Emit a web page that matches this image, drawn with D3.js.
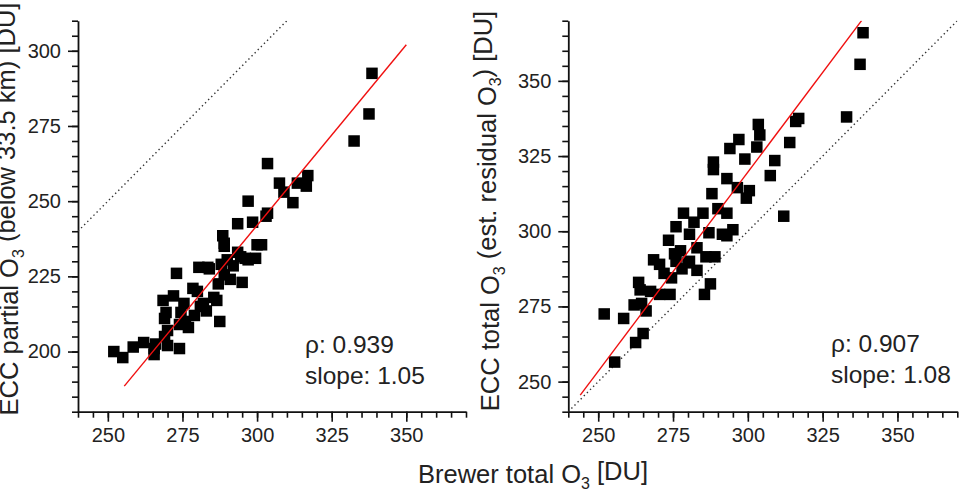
<!DOCTYPE html>
<html>
<head>
<meta charset="utf-8">
<script src="https://cdn.jsdelivr.net/npm/d3@7"></script>
<style>
  body { margin: 0; background: #fff; }
  svg { display: block; font-family: "Liberation Sans", Arial, sans-serif; }
  .tick text { font-size: 20px; fill: #222; }
  .domain { stroke: #111; stroke-width: 1.8px; }
  .tick line { stroke: #111; stroke-width: 1.6px; }
</style>
</head>
<body>
<div id="chart"></div>
<script>
// Brewer total O3 vs ECC partial O3 (left panel)
const partialPoints = [
  [252, 200], [255, 198], [258.5, 201.5], [262, 203], [265.5, 199], [266, 202.5],
  [265.5, 201], [270, 202], [274, 201], [269, 205], [270, 207], [269, 211],
  [269.5, 213], [268.5, 217], [272, 218.5], [273, 226], [275.5, 216], [274.5, 213],
  [274, 209], [277, 208], [276, 210], [278.5, 221], [280.5, 228], [281, 215],
  [283, 213.5], [284, 227.5], [285.5, 218], [287.5, 210], [287, 222.5], [286.5, 217],
  [289, 225.5], [291, 224], [295, 223], [292, 228.5], [296, 231], [299.5, 231],
  [289, 236], [300, 235.5], [293.5, 233], [288.5, 238.5], [289, 235], [294.5, 231.5],
  [290, 230.5], [283.5, 228], [288, 229], [297, 230.5], [293.5, 242.5], [298.5, 243],
  [297, 250], [303.5, 246], [303, 245], [303.5, 262.5], [307.5, 256], [309, 253],
  [312, 249.5], [313.5, 256], [316.5, 255], [317, 258.5], [332.5, 270], [337.5, 279],
  [338.5, 292.5], [301.5, 235.5], [280, 220], [279, 212], [282, 216]
];

// Brewer total O3 vs ECC total O3 (right panel)
const totalPoints = [
  [252, 272.5], [258.5, 271], [255.5, 256.5], [262.5, 263], [265, 266], [262, 275.5],
  [264.5, 276], [266, 273.5], [263.5, 283], [264, 280.5], [267.5, 280], [270.5, 279],
  [274, 279], [272, 286], [268.5, 290.5], [270.5, 289], [274.5, 284.5], [275.5, 292.5],
  [278, 287.5], [280, 289.5], [283, 287], [285.5, 279], [287.5, 282.5], [286, 291.5],
  [289, 291.5], [276, 290], [280.5, 290], [277.5, 293.5], [283, 294.5], [273.5, 297],
  [280.5, 299], [287, 299.5], [291.5, 299], [295, 300.5], [293, 298.5], [276, 301.5],
  [282, 303], [278.5, 306], [285, 306], [290, 307.5], [293, 306], [288, 312.5],
  [296.5, 314.5], [300.5, 313.5], [299.5, 311], [293, 317.5], [288.5, 320.5], [288.5, 323],
  [299, 324], [297, 330.5], [294, 327.5], [303, 328], [304, 332], [303.5, 335.5],
  [309, 323.5], [307.5, 318.5], [314, 329.5], [317, 337.5], [316, 336.5], [312, 305],
  [333, 338], [337.5, 355.5], [338.5, 366]
];

// regression line end points [x, y]
const partialFit = [[255.5, 188.5], [350, 302]];
const totalFit = [[244, 245.5], [338, 370]];

// axis domains and tick labels
const xDomain = [240, 370];
const partialDomain = [180, 310];
const totalDomain = [240, 370];
const xTicks = [250, 275, 300, 325, 350];
const partialTicks = [200, 225, 250, 275, 300];
const totalTicks = [250, 275, 300, 325, 350];

const partialStats = ['\u03c1: 0.939', 'slope: 1.05'];
const totalStats = ['\u03c1: 0.907', 'slope: 1.08'];

const width = 959, height = 492;

const svg = d3.select('#chart').append('svg')
    .attr('width', width)
    .attr('height', height);

const defs = svg.append('defs');

const panels = [
  {
    id: 'left', x0: 78, x1: 466, y0: 411.7, y1: 20.7,
    yDomain: partialDomain, yTicks: partialTicks,
    points: partialPoints, fit: partialFit, stats: partialStats,
    statsX: 305, statsY: 353,
    title: ['ECC partial O', '3', ' (below 33.5 km) [DU]'], titleX: 18, titleY: 209
  },
  {
    id: 'right', x0: 568.3, x1: 957.3, y0: 411.7, y1: 20.7,
    yDomain: totalDomain, yTicks: totalTicks,
    points: totalPoints, fit: totalFit, stats: totalStats,
    statsX: 831, statsY: 352,
    title: ['ECC total O', '3', ' (est. residual O', '3', ') [DU]'], titleX: 499, titleY: 211
  }
];

panels.forEach(drawPanel);

// shared x title
const xt = svg.append('text')
    .attr('x', 418)
    .attr('y', 483)
    .style('font-size', '25.5px')
    .style('fill', '#222');
addSubText(xt, ['Brewer total O', '3', ' [DU]']);

function addSubText(text, parts) {
  // odd entries are subscripts
  parts.forEach(function (p, i) {
    const sub = i % 2 === 1;
    text.append('tspan')
        .attr('dy', sub ? '0.35em' : (i > 0 ? '-0.35em' : null))
        .style('font-size', sub ? '16px' : null)
        .text(p);
  });
}

function drawPanel(p) {

  const x = d3.scaleLinear().domain(xDomain).range([p.x0, p.x1]);
  const y = d3.scaleLinear().domain(p.yDomain).range([p.y0, p.y1]);

  const g = svg.append('g').attr('class', 'panel-' + p.id);

  defs.append('clipPath')
      .attr('id', 'clip-' + p.id)
    .append('rect')
      .attr('x', p.x0)
      .attr('y', p.y1)
      .attr('width', p.x1 - p.x0)
      .attr('height', p.y0 - p.y1);

  //minor ticks every 5 DU
  g.append('g')
      .attr('transform', 'translate(0,' + p.y0 + ')')
      .call(d3.axisBottom(x).tickValues(d3.range(xDomain[0], xDomain[1] + 1, 5)).tickSize(6).tickFormat(''))
      .call(s => s.select('.domain').remove());

  g.append('g')
      .attr('transform', 'translate(' + p.x0 + ',0)')
      .call(d3.axisLeft(y).tickValues(d3.range(p.yDomain[0], p.yDomain[1] + 1, 5)).tickSize(6).tickFormat(''))
      .call(s => s.select('.domain').remove());

  //major ticks
  g.append('g')
      .attr('transform', 'translate(0,' + p.y0 + ')')
      .call(d3.axisBottom(x).tickValues(xTicks).tickSize(10).tickSizeOuter(0).tickPadding(6));

  g.append('g')
      .attr('transform', 'translate(' + p.x0 + ',0)')
      .call(d3.axisLeft(y).tickValues(p.yTicks).tickSize(10).tickSizeOuter(0).tickPadding(7));

  const plot = g.append('g').attr('clip-path', 'url(#clip-' + p.id + ')');

  // 1:1 line
  const lo = Math.max(xDomain[0], p.yDomain[0]);
  const hi = Math.min(xDomain[1], p.yDomain[1]);
  plot.append('line')
      .attr('x1', x(lo)).attr('y1', y(lo))
      .attr('x2', x(hi)).attr('y2', y(hi))
      .attr('stroke', '#333')
      .attr('stroke-width', 1.4)
      .attr('stroke-dasharray', '1.4,3');

  const s = 11.5;
  plot.selectAll('.dot')
      .data(p.points)
      .enter().append('rect')
      .attr('class', 'dot')
      .attr('x', d => x(d[0]) - s / 2)
      .attr('y', d => y(d[1]) - s / 2)
      .attr('width', s)
      .attr('height', s)
      .attr('fill', '#000');

  plot.append('line')
      .attr('x1', x(p.fit[0][0])).attr('y1', y(p.fit[0][1]))
      .attr('x2', x(p.fit[1][0])).attr('y2', y(p.fit[1][1]))
      .attr('stroke', '#f01010')
      .attr('stroke-width', 1.4);

  g.selectAll('.stat')
      .data(p.stats)
      .enter().append('text')
      .attr('class', 'stat')
      .attr('x', p.statsX)
      .attr('y', (d, i) => p.statsY + i * 31)
      .style('font-size', '24.5px')
      .style('fill', '#222')
      .text(d => d);

  const t = g.append('text')
      .attr('transform', 'translate(' + p.titleX + ',' + p.titleY + ') rotate(-90)')
      .style('text-anchor', 'middle')
      .style('font-size', '25.5px')
      .style('fill', '#222');
  addSubText(t, p.title);
}
</script>
</body>
</html>
